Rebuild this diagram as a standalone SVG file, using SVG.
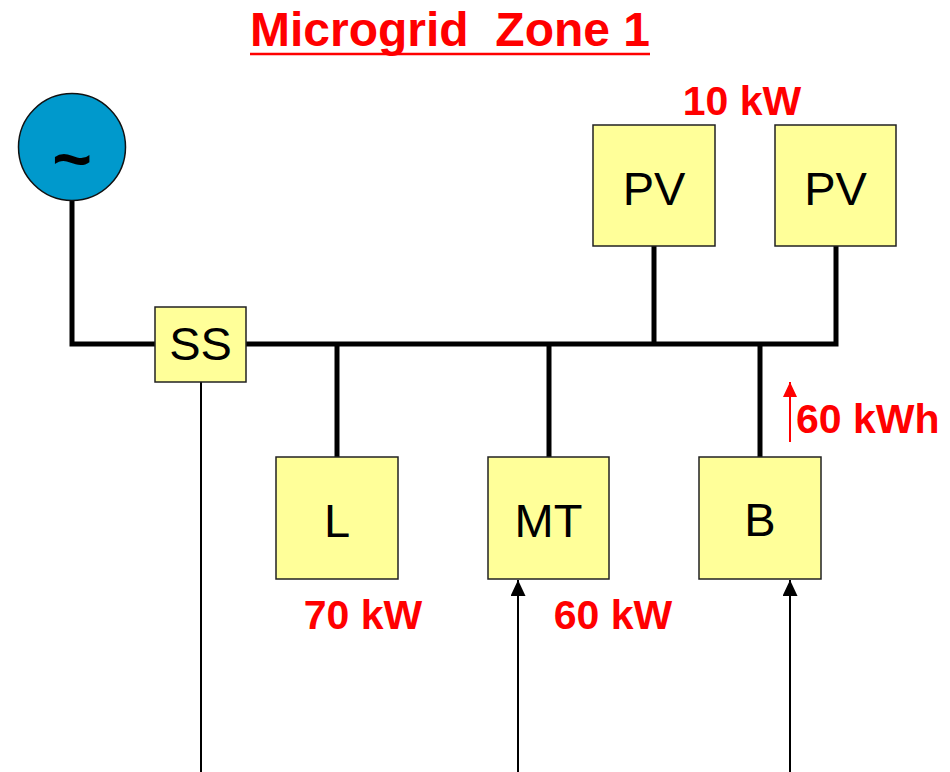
<svg xmlns="http://www.w3.org/2000/svg" width="950" height="772" viewBox="0 0 950 772">
<style>
.box{fill:#FFFF99;stroke:#222;stroke-width:1.5}
.lbl{font-family:"Liberation Sans",Arial,sans-serif;font-size:47px;fill:#000;text-anchor:middle}
.red{font-family:"Liberation Sans",Arial,sans-serif;font-weight:bold;fill:#FF0000}
.bus{fill:none;stroke:#000;stroke-width:5}
.thin{fill:none;stroke:#000;stroke-width:2}
</style>
<defs>
<marker id="ah" markerWidth="16" markerHeight="15" refX="16" refY="7.5" orient="auto" markerUnits="userSpaceOnUse">
<path d="M0,0 L16,7.5 L0,15 Z" fill="#000"/>
</marker>
<marker id="ahr" markerWidth="15" markerHeight="14" refX="15" refY="7" orient="auto" markerUnits="userSpaceOnUse">
<path d="M0,0 L15,7 L0,14 Z" fill="#FF0000"/>
</marker>
</defs>
<rect width="950" height="772" fill="#fff"/>
<g id="title">
<text class="red" x="450" y="46" font-size="48" text-anchor="middle" xml:space="preserve">Microgrid  Zone 1</text>
<line x1="250" y1="54" x2="650" y2="54" stroke="#FF0000" stroke-width="2.5"/>
</g>
<g id="connectors">
<path class="bus" d="M72,200 V344 H156"/>
<path class="bus" d="M246,344 H836 V246"/>
<line class="bus" x1="654" y1="246" x2="654" y2="344"/>
<line class="bus" x1="337" y1="344" x2="337" y2="457"/>
<line class="bus" x1="549" y1="344" x2="549" y2="457"/>
<line class="bus" x1="760" y1="344" x2="760" y2="457"/>
<line class="thin" x1="201" y1="382" x2="201" y2="772" stroke-width="1.5"/>
<line class="thin" x1="518" y1="772" x2="518" y2="580" marker-end="url(#ah)"/>
<line class="thin" x1="790" y1="772" x2="790" y2="580" marker-end="url(#ah)"/>
<line x1="790" y1="442" x2="790" y2="382" stroke="#FF0000" stroke-width="2" marker-end="url(#ahr)"/>
</g>
<g id="source">
<circle cx="72" cy="147" r="53.5" fill="#0099CC" stroke="#111" stroke-width="1.5"/>
<text x="72" y="182" font-family="Liberation Sans,Arial,sans-serif" font-weight="bold" font-size="68" text-anchor="middle" fill="#000">~</text>
</g>
<g id="SS">
<rect class="box" x="155" y="307" width="91" height="75"/>
<text class="lbl" x="200.5" y="360">SS</text>
</g>
<g id="PV1">
<rect class="box" x="593" y="125" width="122" height="121"/>
<text class="lbl" x="654" y="205">PV</text>
</g>
<g id="PV2">
<rect class="box" x="775" y="125" width="121" height="121"/>
<text class="lbl" x="835.5" y="205">PV</text>
</g>
<g id="L">
<rect class="box" x="276" y="457" width="122" height="122"/>
<text class="lbl" x="337" y="537">L</text>
</g>
<g id="MT">
<rect class="box" x="488" y="457" width="121" height="122"/>
<text class="lbl" x="548.5" y="537">MT</text>
</g>
<g id="B">
<rect class="box" x="699" y="457" width="122" height="122"/>
<text class="lbl" x="760" y="536">B</text>
</g>
<g id="labels">
<text class="red" x="742" y="115" font-size="41" text-anchor="middle">10 kW</text>
<text class="red" x="363" y="629" font-size="41" text-anchor="middle">70 kW</text>
<text class="red" x="613" y="629" font-size="41" text-anchor="middle">60 kW</text>
<text class="red" x="796" y="433" font-size="41">60 kWh</text>
</g>
</svg>
